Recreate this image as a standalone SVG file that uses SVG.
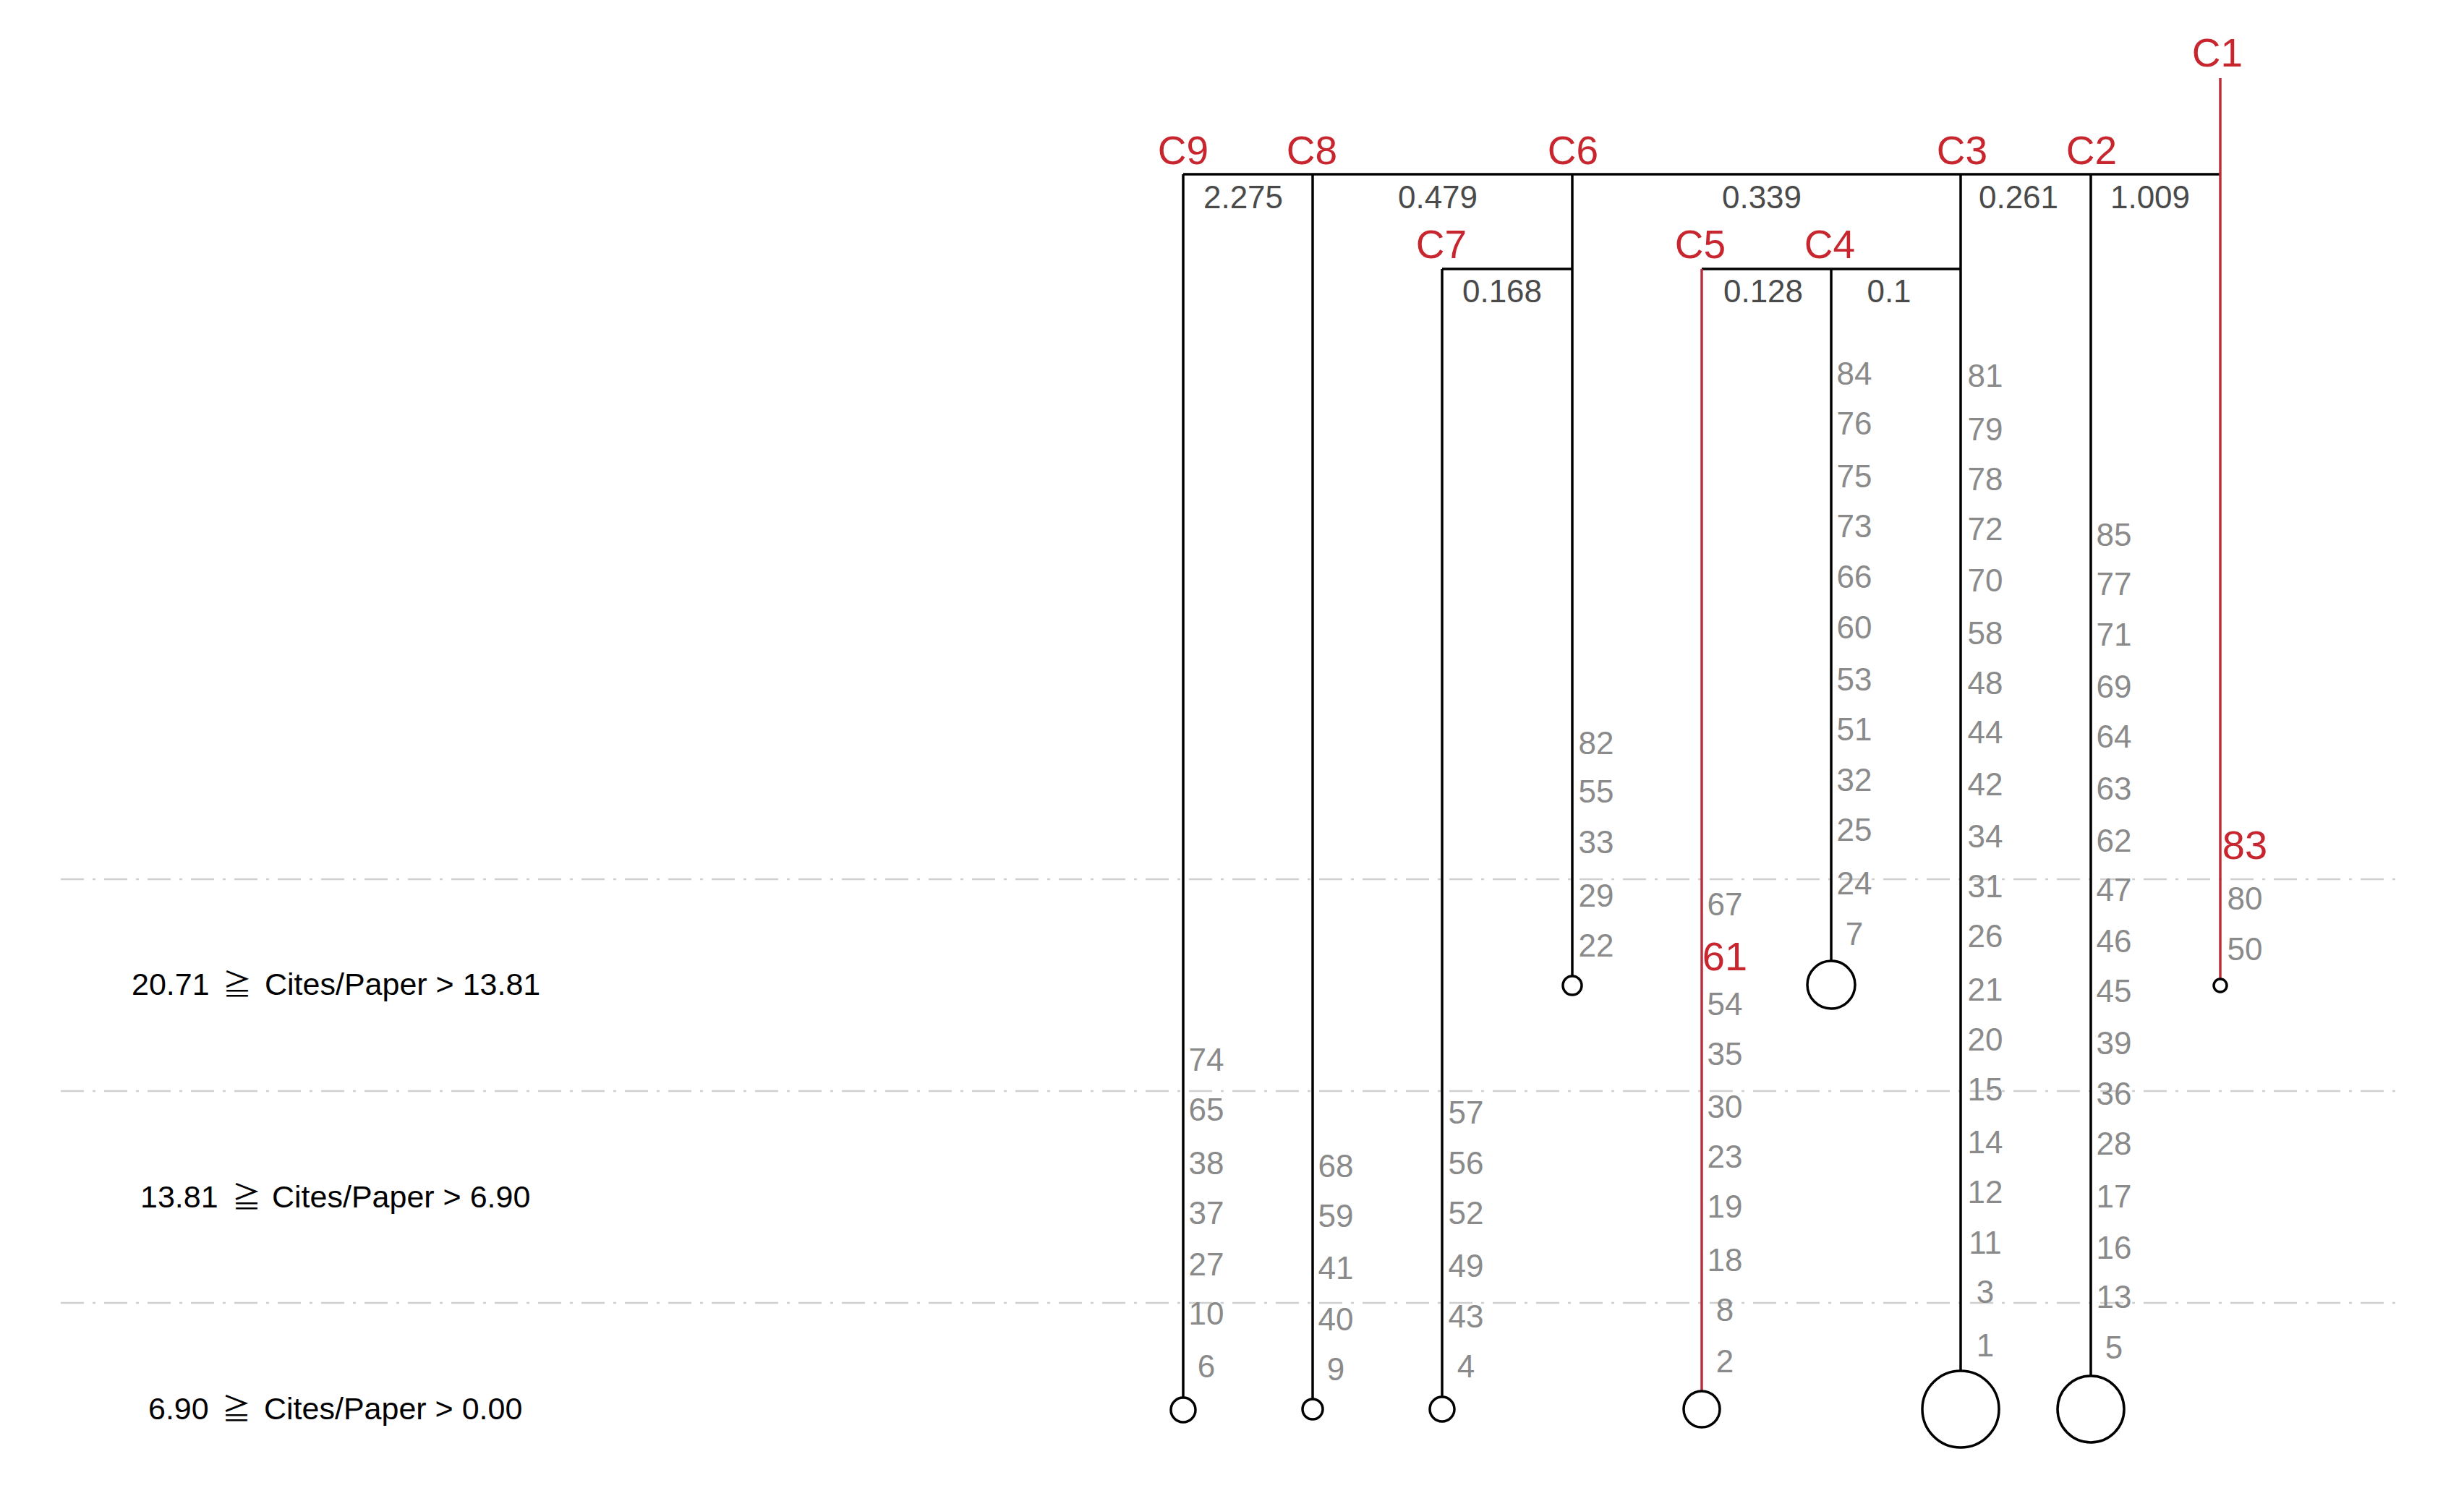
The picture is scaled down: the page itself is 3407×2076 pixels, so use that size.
<svg xmlns="http://www.w3.org/2000/svg" width="3407" height="2076" viewBox="0 0 3407 2076">
<style>
  text { font-family: "Liberation Sans", "DejaVu Sans", "Noto Sans CJK JP", sans-serif; }
  .stem { stroke: #000; stroke-width: 3.5; fill: none; }
  .stemr { stroke: #bb2f3d; stroke-width: 3.5; fill: none; }
  .conn { stroke: #000; stroke-width: 3.5; fill: none; }
  .leafc { stroke: #000; stroke-width: 3.5; fill: #fff; }
  .grid { stroke: #cfcfcf; stroke-width: 2.5; stroke-dasharray: 32 12 4 12; fill: none; }
  .cl { fill: #c8262f; font-size: 55px; text-anchor: middle; }
  .dist { fill: #4a4a4a; font-size: 44px; text-anchor: middle; }
  .lf { fill: #8a8a8a; font-size: 44px; text-anchor: middle; }
  .lfr { fill: #c8262f; font-size: 56px; text-anchor: middle; }
  .leg { fill: #000; font-size: 43px; }
  .geq { font-family: "Noto Sans CJK JP", "DejaVu Sans", sans-serif; font-size: 40px; text-anchor: middle; }
</style>
<rect width="3407" height="2076" fill="#fff"/>
<g id="grid">
  <line class="grid" x1="84" y1="1216" x2="3320" y2="1216"/>
  <line class="grid" x1="84" y1="1509" x2="3320" y2="1509"/>
  <line class="grid" x1="84" y1="1802" x2="3320" y2="1802"/>
</g>
<g id="legend">
  <text class="leg" y="1376"><tspan x="182">20.71</tspan><tspan class="geq" x="328">≧</tspan><tspan x="366">Cites/Paper &gt; 13.81</tspan></text>
  <text class="leg" y="1670"><tspan x="194">13.81</tspan><tspan class="geq" x="341">≧</tspan><tspan x="376">Cites/Paper &gt; 6.90</tspan></text>
  <text class="leg" y="1963"><tspan x="205">6.90</tspan><tspan class="geq" x="327">≧</tspan><tspan x="365">Cites/Paper &gt; 0.00</tspan></text>
</g>
<g id="connectors">
  <line class="conn" x1="1636" y1="241" x2="3070" y2="241"/>
  <line class="conn" x1="1994" y1="372" x2="2174" y2="372"/>
  <line class="conn" x1="2353" y1="372" x2="2711" y2="372"/>
  <text class="dist" x="1719" y="288">2.275</text>
  <text class="dist" x="1988" y="288">0.479</text>
  <text class="dist" x="2436" y="288">0.339</text>
  <text class="dist" x="2791" y="288">0.261</text>
  <text class="dist" x="2973" y="288">1.009</text>
  <text class="dist" x="2077" y="418">0.168</text>
  <text class="dist" x="2438" y="418">0.128</text>
  <text class="dist" x="2612" y="418">0.1</text>
</g>
<g id="C9">
  <line class="stem" x1="1636" y1="241" x2="1636" y2="1933"/>
  <circle class="leafc" cx="1636" cy="1950" r="17"/>
  <text class="cl" x="1636" y="227">C9</text>
  <text class="lf" x="1668" y="1481">74</text>
  <text class="lf" x="1668" y="1550">65</text>
  <text class="lf" x="1668" y="1624">38</text>
  <text class="lf" x="1668" y="1693">37</text>
  <text class="lf" x="1668" y="1764">27</text>
  <text class="lf" x="1668" y="1832">10</text>
  <text class="lf" x="1668" y="1905">6</text>
</g>
<g id="C8">
  <line class="stem" x1="1815" y1="241" x2="1815" y2="1935"/>
  <circle class="leafc" cx="1815" cy="1949" r="14"/>
  <text class="cl" x="1814" y="227">C8</text>
  <text class="lf" x="1847" y="1628">68</text>
  <text class="lf" x="1847" y="1697">59</text>
  <text class="lf" x="1847" y="1769">41</text>
  <text class="lf" x="1847" y="1840">40</text>
  <text class="lf" x="1847" y="1909">9</text>
</g>
<g id="C7">
  <line class="stem" x1="1994" y1="372" x2="1994" y2="1932"/>
  <circle class="leafc" cx="1994" cy="1949" r="17"/>
  <text class="cl" x="1993" y="357">C7</text>
  <text class="lf" x="2027" y="1554">57</text>
  <text class="lf" x="2027" y="1624">56</text>
  <text class="lf" x="2027" y="1693">52</text>
  <text class="lf" x="2027" y="1766">49</text>
  <text class="lf" x="2027" y="1836">43</text>
  <text class="lf" x="2027" y="1905">4</text>
</g>
<g id="C6">
  <line class="stem" x1="2174" y1="241" x2="2174" y2="1350"/>
  <circle class="leafc" cx="2174" cy="1363" r="13"/>
  <text class="cl" x="2175" y="227">C6</text>
  <text class="lf" x="2207" y="1043">82</text>
  <text class="lf" x="2207" y="1110">55</text>
  <text class="lf" x="2207" y="1180">33</text>
  <text class="lf" x="2207" y="1254">29</text>
  <text class="lf" x="2207" y="1323">22</text>
</g>
<g id="C5">
  <line class="stemr" x1="2353" y1="372" x2="2353" y2="1924"/>
  <circle class="leafc" cx="2353" cy="1949" r="25"/>
  <text class="cl" x="2351" y="357">C5</text>
  <text class="lf" x="2385" y="1266">67</text>
  <text class="lfr" x="2385" y="1342">61</text>
  <text class="lf" x="2385" y="1404">54</text>
  <text class="lf" x="2385" y="1473">35</text>
  <text class="lf" x="2385" y="1546">30</text>
  <text class="lf" x="2385" y="1615">23</text>
  <text class="lf" x="2385" y="1684">19</text>
  <text class="lf" x="2385" y="1758">18</text>
  <text class="lf" x="2385" y="1827">8</text>
  <text class="lf" x="2385" y="1898">2</text>
</g>
<g id="C4">
  <line class="stem" x1="2532" y1="372" x2="2532" y2="1329"/>
  <circle class="leafc" cx="2532" cy="1362" r="33"/>
  <text class="cl" x="2530" y="357">C4</text>
  <text class="lf" x="2564" y="532">84</text>
  <text class="lf" x="2564" y="601">76</text>
  <text class="lf" x="2564" y="674">75</text>
  <text class="lf" x="2564" y="743">73</text>
  <text class="lf" x="2564" y="813">66</text>
  <text class="lf" x="2564" y="883">60</text>
  <text class="lf" x="2564" y="955">53</text>
  <text class="lf" x="2564" y="1024">51</text>
  <text class="lf" x="2564" y="1094">32</text>
  <text class="lf" x="2564" y="1163">25</text>
  <text class="lf" x="2564" y="1237">24</text>
  <text class="lf" x="2564" y="1307">7</text>
</g>
<g id="C3">
  <line class="stem" x1="2711" y1="241" x2="2711" y2="1896"/>
  <circle class="leafc" cx="2711" cy="1949" r="53"/>
  <text class="cl" x="2713" y="227">C3</text>
  <text class="lf" x="2745" y="535">81</text>
  <text class="lf" x="2745" y="609">79</text>
  <text class="lf" x="2745" y="678">78</text>
  <text class="lf" x="2745" y="747">72</text>
  <text class="lf" x="2745" y="818">70</text>
  <text class="lf" x="2745" y="891">58</text>
  <text class="lf" x="2745" y="960">48</text>
  <text class="lf" x="2745" y="1028">44</text>
  <text class="lf" x="2745" y="1100">42</text>
  <text class="lf" x="2745" y="1172">34</text>
  <text class="lf" x="2745" y="1241">31</text>
  <text class="lf" x="2745" y="1310">26</text>
  <text class="lf" x="2745" y="1384">21</text>
  <text class="lf" x="2745" y="1453">20</text>
  <text class="lf" x="2745" y="1522">15</text>
  <text class="lf" x="2745" y="1595">14</text>
  <text class="lf" x="2745" y="1664">12</text>
  <text class="lf" x="2745" y="1734">11</text>
  <text class="lf" x="2745" y="1802">3</text>
  <text class="lf" x="2745" y="1876">1</text>
</g>
<g id="C2">
  <line class="stem" x1="2891" y1="241" x2="2891" y2="1903"/>
  <circle class="leafc" cx="2891" cy="1949" r="46"/>
  <text class="cl" x="2892" y="227">C2</text>
  <text class="lf" x="2923" y="755">85</text>
  <text class="lf" x="2923" y="823">77</text>
  <text class="lf" x="2923" y="893">71</text>
  <text class="lf" x="2923" y="965">69</text>
  <text class="lf" x="2923" y="1034">64</text>
  <text class="lf" x="2923" y="1106">63</text>
  <text class="lf" x="2923" y="1178">62</text>
  <text class="lf" x="2923" y="1246">47</text>
  <text class="lf" x="2923" y="1317">46</text>
  <text class="lf" x="2923" y="1386">45</text>
  <text class="lf" x="2923" y="1458">39</text>
  <text class="lf" x="2923" y="1528">36</text>
  <text class="lf" x="2923" y="1597">28</text>
  <text class="lf" x="2923" y="1670">17</text>
  <text class="lf" x="2923" y="1741">16</text>
  <text class="lf" x="2923" y="1809">13</text>
  <text class="lf" x="2923" y="1879">5</text>
</g>
<g id="C1">
  <line class="stemr" x1="3070" y1="108" x2="3070" y2="1353"/>
  <circle class="leafc" cx="3070" cy="1363" r="9"/>
  <text class="cl" x="3066" y="92">C1</text>
  <text class="lfr" x="3104" y="1188">83</text>
  <text class="lf" x="3104" y="1258">80</text>
  <text class="lf" x="3104" y="1328">50</text>
</g>
</svg>
